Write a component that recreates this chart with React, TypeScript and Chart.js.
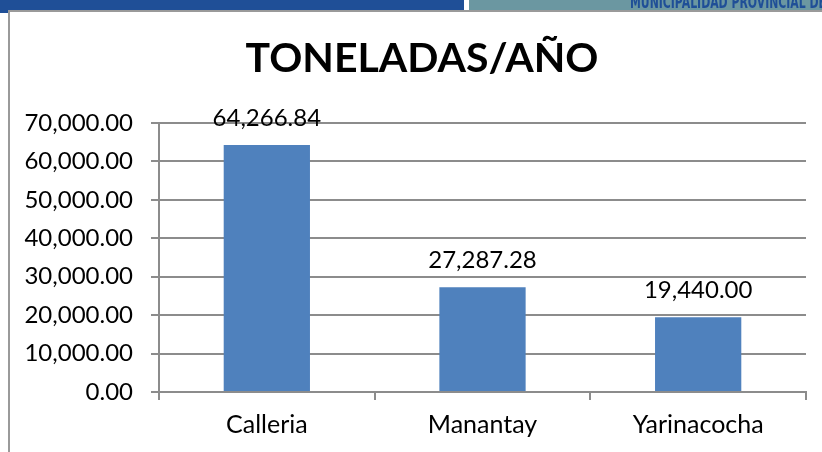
import React, { useEffect, useRef } from "react";
import { Chart, registerables } from "chart.js";

Chart.register(...registerables);

const chartTitle = "TONELADAS/AÑO";
const categories = ["Calleria", "Manantay", "Yarinacocha"];
const tonnes = [64266.84, 27287.28, 19440.0];
const yMin = 0;
const yMax = 70000;
const yStep = 10000;
const bannerText = "MUNICIPALIDAD PROVINCIAL DE";

const W = 822;
const H = 452;
const FONT = "Lato";
const barColor = "#4f81bd";
const gridColor = "#8c8c8c";

const fmt = (v: number) =>
  Number(v).toLocaleString("en-US", { minimumFractionDigits: 2, maximumFractionDigits: 2 });

const overlayText = {
  id: "overlayText",
  afterDatasetsDraw(chart: any) {
    const ctx = chart.ctx;
    const meta = chart.getDatasetMeta(0);
    ctx.save();
    ctx.fillStyle = "#000";
    ctx.textAlign = "center";
    ctx.textBaseline = "alphabetic";
    ctx.font = `24px ${FONT}`;
    meta.data.forEach((bar: any, i: number) => {
      ctx.fillText(fmt(tonnes[i]), bar.x, bar.y - 19);
    });
    ctx.font = `bold 41px ${FONT}`;
    ctx.fillText(chartTitle, 422, 72);
    ctx.restore();
  },
};

export default function App() {
  const canvasRef = useRef<HTMLCanvasElement | null>(null);
  const bannerRef = useRef<HTMLDivElement | null>(null);

  useEffect(() => {
    let chart: Chart | null = null;
    let cancelled = false;
    const leftPad = 10;
    const fitBanner = () => {
      const el = bannerRef.current;
      if (!el) return;
      el.style.transform = "none";
      const w = el.getBoundingClientRect().width;
      if (w > 0) el.style.transform = `scaleX(${196 / w})`;
    };
    const make = () => {
      if (cancelled || !canvasRef.current) return;
      fitBanner();
      chart = new Chart(canvasRef.current, {
        type: "bar",
        data: {
          labels: categories,
          datasets: [
            {
              data: tonnes,
              backgroundColor: barColor,
              borderWidth: 0,
              barPercentage: 0.4,
              categoryPercentage: 1,
            },
          ],
        },
        options: {
          animation: false,
          responsive: false,
          maintainAspectRatio: false,
          devicePixelRatio: 1,
          layout: { padding: { top: 123, left: leftPad, right: W - 806, bottom: 0 } },
          plugins: {
            legend: { display: false },
            title: { display: false },
            tooltip: { enabled: false },
          },
          scales: {
            x: {
              grid: {
                display: true,
                drawOnChartArea: false,
                drawTicks: true,
                tickLength: 8,
                color: gridColor,
                lineWidth: 2,
                offset: true,
              },
              border: { display: true, color: gridColor, width: 2 },
              ticks: { font: { family: FONT, size: 25 }, color: "#000", padding: 10, maxRotation: 0 },
              afterFit: (s: any) => {
                s.height = 60;
              },
            },
            y: {
              min: yMin,
              max: yMax,
              ticks: {
                stepSize: yStep,
                callback: (v: any) => fmt(v),
                font: { family: FONT, size: 24 },
                color: "#000",
                padding: 18,
              },
              grid: { color: gridColor, lineWidth: 2, tickLength: 8, drawTicks: true },
              border: { display: true, color: gridColor, width: 2 },
              afterFit: (s: any) => {
                s.width = 159 - leftPad;
              },
            },
          },
        } as any,
        plugins: [overlayText],
      });
    };
    const fonts = (document as any).fonts;
    if (fonts && fonts.load) {
      Promise.all([fonts.load(`24px ${FONT}`), fonts.load(`bold 41px ${FONT}`)])
        .catch(() => null)
        .then(make);
    } else {
      make();
    }
    return () => {
      cancelled = true;
      if (chart) chart.destroy();
    };
  }, []);

  return (
    <div style={{ position: "fixed", left: 0, top: 0, width: W, height: H, background: "#fff", overflow: "hidden" }}>
      <canvas ref={canvasRef} width={W} height={H} style={{ position: "absolute", left: 0, top: 0, width: W, height: H }} />
      <div style={{ position: "absolute", left: 0, top: 0, width: 464, height: 10, background: "#1f4f97" }} />
      <div style={{ position: "absolute", left: 0, top: 0, width: 8, height: 13, background: "#1f4f97" }} />
      <div style={{ position: "absolute", left: 469, top: 0, width: W - 469, height: 10, background: "#6b97a1", overflow: "hidden" }}>
        <div
          ref={bannerRef}
          style={{
            position: "absolute",
            left: 630 - 469,
            top: -6,
            whiteSpace: "nowrap",
            fontFamily: "'DejaVu Sans Condensed', 'DejaVu Sans'",
            fontStretch: "condensed",
            fontWeight: "bold",
            fontSize: 17,
            lineHeight: "17px",
            color: "#1f4f97",
            transformOrigin: "left top",
          }}
        >
          {bannerText}
        </div>
      </div>
      <div style={{ position: "absolute", left: 8, top: 10, width: W - 8, height: 2, background: "#9a9a9a" }} />
      <div style={{ position: "absolute", left: 8, top: 10, width: 2, height: H - 10, background: "#9a9a9a" }} />
    </div>
  );
}
